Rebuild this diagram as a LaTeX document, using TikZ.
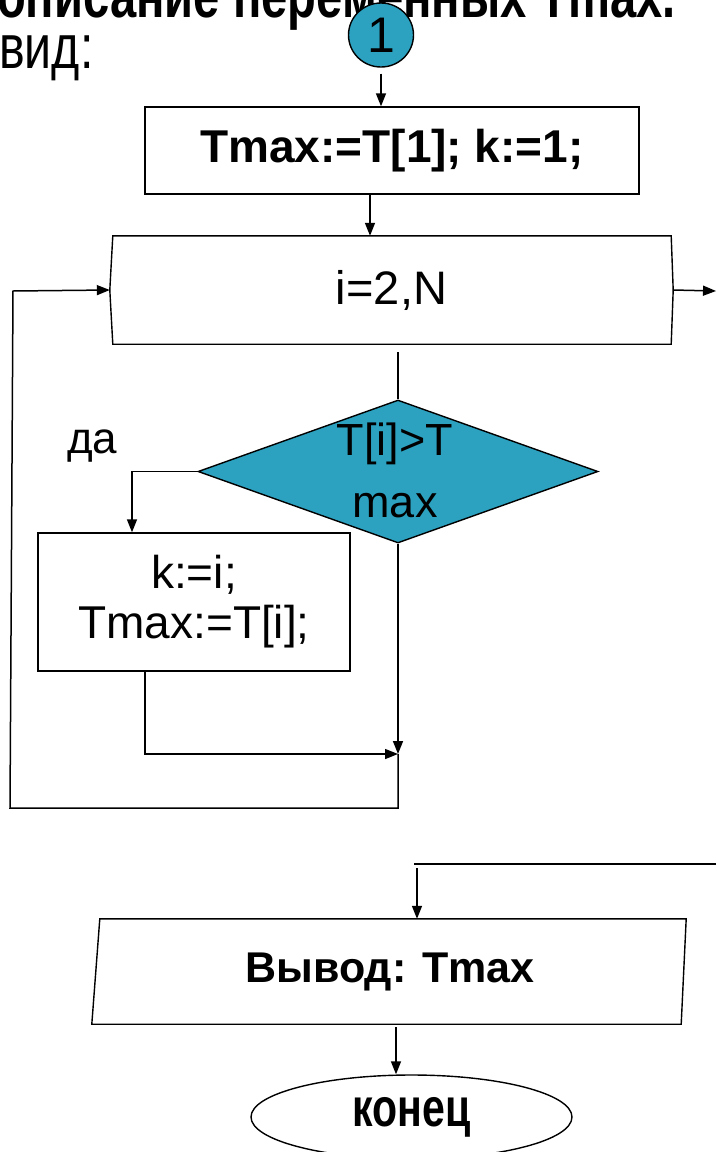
\documentclass[tikz,border=0pt]{standalone}
\usepackage{fontspec}
\setmainfont{Liberation Sans}
\usepackage{graphicx}
\usetikzlibrary{positioning, shapes.geometric}
\usetikzlibrary{arrows.meta}
\definecolor{condfill}{RGB}{44,162,192}
\tikzset{ blk/.style={draw, line width=1.4pt, inner sep=0pt},
          flow/.style={line width=1.5pt, -{Triangle[length=13pt,width=10pt]}},
          wire/.style={line width=1.5pt}}
\newcommand{\hdfnt}{\fontsize{62}{70}\selectfont}
\newcommand{\bxfnt}{\fontsize{46}{50}\selectfont}

\begin{document}
\begin{tikzpicture}[x=1pt,y=-1pt]
\useasboundingbox (0,0) rectangle (716,1152);

% header
\node[anchor=base west, inner sep=0pt, font=\hdfnt\bfseries] (title) at (-3,17)
  {\scalebox{0.76}[1]{описание переменных Tmax.}};
\node[anchor=base west, inner sep=0pt, font=\hdfnt] (vid) at (-1,68)
  {\scalebox{0.78}[1]{вид:}};

\node[blk, ellipse, fill=condfill, minimum width=65pt, minimum height=64pt,
  font=\fontsize{50}{50}\selectfont] (one) at (381,35) {1};
\node[blk, minimum width=494pt, minimum height=87pt,
  font=\bxfnt\bfseries] (init) at (392,150.5) {Tmax:=T[1]; k:=1;};

% loop box
\node[minimum width=563pt, minimum height=108pt, inner sep=0pt,
  font=\fontsize{47}{50}\selectfont] (loop) at (391.5,290) {i=2,N};
\draw[blk] ([xshift=3pt]loop.north west) -- ([xshift=-2pt]loop.north east)
  -- (loop.east) -- ([xshift=-2pt]loop.south east)
  -- ([xshift=3pt]loop.south west) -- (loop.west) -- cycle;

% condition
\node[blk, diamond, fill=condfill, minimum width=400pt, minimum height=143pt]
  (cond) at (398,471.5) {};
\node[align=center, inner sep=0pt, font=\fontsize{45}{62}\selectfont]
  (condtxt) at (395,470) {T[i]>T\\max};
\node[anchor=base west, inner sep=0pt, font=\fontsize{44}{50}\selectfont]
  (yeslbl) at (67,453) {да};
\node[blk, minimum width=312pt, minimum height=138pt, align=center,
  font=\bxfnt] (yes) at (194,602) {k:=i;\\Tmax:=T[i];};

% output
\node[minimum width=588pt, minimum height=105pt, inner sep=0pt,
  font=\fontsize{43}{50}\selectfont\bfseries] (outp) at (390,971.5) {Вывод: Tmax};
\draw[blk] ([xshift=4pt]outp.north west) -- ([xshift=2pt]outp.north east)
  -- ([xshift=-3pt]outp.south east) -- ([xshift=-4pt]outp.south west) -- cycle;
\node[blk, ellipse, minimum width=321pt, minimum height=84pt,
  font=\fontsize{54}{60}\selectfont\bfseries] (fin) at (411.5,1117)
  {\scalebox{0.76}[1]{конец}};

\coordinate (join) at (398,754);
\coordinate (lb) at (398,808);
\coordinate (back) at (10,808);
\coordinate (backtop) at (13,291);
\coordinate (exitr) at (716,291);
\coordinate (exitin) at (716,864);
\coordinate (exitc) at (414,864);
\coordinate (outin) at (417,868);

% connectors
\draw[flow, shorten <=6pt] (one.south) -- (one.south |- init.north);
\draw[flow] ([xshift=-22pt]init.south) -- ([xshift=-22pt]init.south |- loop.north);
\draw[wire, shorten <=8pt] (cond.north |- loop.south) -- (cond.north);
\draw[flow] (cond.west) -| ([xshift=-62pt]yes.north);
\draw[flow] ([xshift=-49pt]yes.south) |- (join);
\draw[flow] (cond.south) -- (join);
\draw[flow] (join) -- (lb) -- (back) -- (backtop) -- (loop.west);
\draw[flow] (loop.east) -- (exitr);
\draw[wire] (exitin) -- (exitc);
\draw[flow] (outin) -- (outin |- outp.north);
\draw[flow, shorten <=3pt] ([xshift=6pt]outp.south) -- ([xshift=6pt]outp.south |- fin.north);

\end{tikzpicture}
\end{document}
